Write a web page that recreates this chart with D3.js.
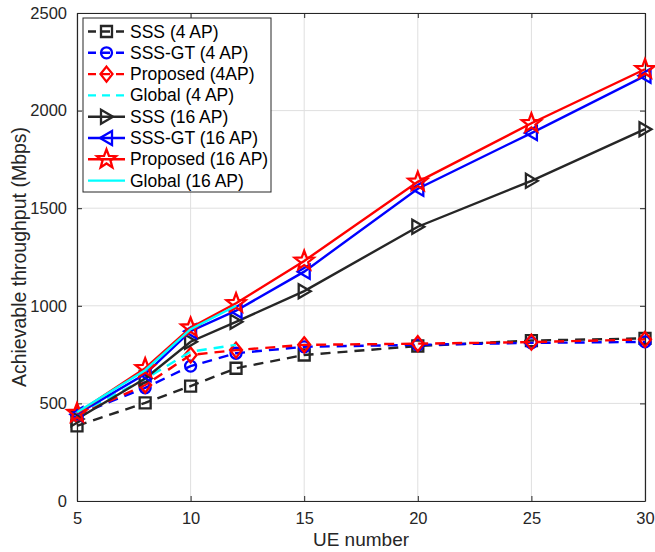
<!DOCTYPE html>
<html><head><meta charset="utf-8">
<script src="https://cdn.jsdelivr.net/npm/d3@7"></script>
<style>body{margin:0;background:#fff;} svg{display:block;font-family:"Liberation Sans",Arial,sans-serif;}</style>
</head><body>
<svg id="c" width="655" height="552"></svg>
<script>
const ueAll = [5, 8, 10, 12, 15, 20, 25, 30];
const ueGlobal = [5, 8, 10, 12];
const sss4 = [385, 503, 589, 680, 748, 794, 822, 833];
const sssgt4 = [440, 580, 691, 757, 790, 800, 810, 815];
const prop4 = [440, 594, 748, 773, 800, 806, 814, 828];
const global4 = [445, 625, 765, 800];
const sss16 = [420, 628, 816, 918, 1075, 1405, 1640, 1905];
const sssgt16 = [445, 650, 870, 975, 1175, 1600, 1885, 2178];
const prop16 = [450, 680, 888, 1013, 1230, 1635, 1935, 2212];
const global16 = [455, 670, 880, 1000];
const xTicks = [5, 10, 15, 20, 25, 30];
const yTicks = [0, 500, 1000, 1500, 2000, 2500];
const names = ["SSS (4 AP)", "SSS-GT (4 AP)", "Proposed (4AP)", "Global (4 AP)", "SSS (16 AP)", "SSS-GT (16 AP)", "Proposed (16 AP)", "Global (16 AP)"];

const K = "#262626", B = "#0000ff", R = "#ff0000", C = "#00ffff";
const series = [
  {x: ueAll, y: sss4, color: K, dash: true, marker: "square"},
  {x: ueAll, y: sssgt4, color: B, dash: true, marker: "circle"},
  {x: ueAll, y: prop4, color: R, dash: true, marker: "diamond"},
  {x: ueGlobal, y: global4, color: C, dash: true, marker: null},
  {x: ueAll, y: sss16, color: K, dash: false, marker: "tri-right"},
  {x: ueAll, y: sssgt16, color: B, dash: false, marker: "tri-left"},
  {x: ueAll, y: prop16, color: R, dash: false, marker: "star"},
  {x: ueGlobal, y: global16, color: C, dash: false, marker: null}
];

const L = 77, Rr = 645, T = 13, Bm = 501;
const svg = d3.select("#c");
const x = d3.scaleLinear().domain([5, 30]).range([L, Rr]);
const y = d3.scaleLinear().domain([0, 2500]).range([Bm, T]);

// grid
const g = svg.append("g");
g.selectAll(".gx").data(xTicks).enter().append("line")
  .attr("x1", d => x(d)).attr("x2", d => x(d)).attr("y1", T).attr("y2", Bm)
  .attr("stroke", "#dfdfdf").attr("stroke-width", 1);
g.selectAll(".gy").data(yTicks).enter().append("line")
  .attr("x1", L).attr("x2", Rr).attr("y1", d => y(d)).attr("y2", d => y(d))
  .attr("stroke", "#dfdfdf").attr("stroke-width", 1);

// axes
const fmt = d3.format("d");
const xAxis = svg.append("g").attr("transform", `translate(0,${Bm})`)
  .call(d3.axisBottom(x).tickValues(xTicks).tickFormat(fmt).tickSizeInner(-5).tickSizeOuter(0).tickPadding(11));
const xAxisTop = svg.append("g").attr("transform", `translate(0,${T})`)
  .call(d3.axisTop(x).tickValues(xTicks).tickSizeInner(-5).tickSizeOuter(0).tickFormat(""));
const yAxis = svg.append("g").attr("transform", `translate(${L},0)`)
  .call(d3.axisLeft(y).tickValues(yTicks).tickFormat(fmt).tickSizeInner(-5).tickSizeOuter(0).tickPadding(10));
const yAxisR = svg.append("g").attr("transform", `translate(${Rr},0)`)
  .call(d3.axisRight(y).tickValues(yTicks).tickSizeInner(-5).tickSizeOuter(0).tickFormat(""));
[xAxis, xAxisTop, yAxis, yAxisR].forEach(a => {
  a.selectAll("path.domain").attr("stroke", K).attr("stroke-width", 1.2);
  a.selectAll(".tick line").attr("stroke", K).attr("stroke-width", 1);
  a.selectAll("text").attr("fill", "#262626").style("font-size", "16.5px").style("font-family", "Liberation Sans, Arial, sans-serif");
});

svg.append("text").attr("x", (L + Rr) / 2).attr("y", 546).attr("text-anchor", "middle")
  .style("font-size", "19px").attr("fill", "#262626").text("UE number");
svg.append("text").attr("transform", `translate(26,${(T + Bm) / 2}) rotate(-90)`).attr("text-anchor", "middle")
  .style("font-size", "19.5px").attr("fill", "#262626").text("Achievable throughput (Mbps)");

function markerPath(type) {
  switch (type) {
    case "square": return "M-5.5,-5.5H5.5V5.5H-5.5Z";
    case "circle": return d3.symbol().type(d3.symbolCircle).size(Math.PI * 5.5 * 5.5)();
    case "diamond": return "M0,-7.5L6,0L0,7.5L-6,0Z";
    case "tri-right": return "M6.5,0L-5.5,-7L-5.5,7Z";
    case "tri-left": return "M-6.5,0L5.5,-7L5.5,7Z";
    case "star": {
      const pts = [];
      for (let i = 0; i < 10; i++) {
        const r = i % 2 === 0 ? 10 : 4.2;
        const a = -Math.PI / 2 + i * Math.PI / 5;
        pts.push([r * Math.cos(a), r * Math.sin(a)]);
      }
      return "M" + pts.map(p => p.join(",")).join("L") + "Z";
    }
  }
  return null;
}

const plot = svg.append("g");
const line = d3.line();
series.forEach(s => {
  const pts = s.x.map((v, i) => [x(v), y(s.y[i])]);
  plot.append("path").attr("d", line(pts)).attr("fill", "none")
    .attr("stroke", s.color).attr("stroke-width", 2.4)
    .attr("stroke-dasharray", s.dash ? "10,7" : null);
  if (s.marker) {
    plot.selectAll(null).data(pts).enter().append("path")
      .attr("d", markerPath(s.marker)).attr("transform", p => `translate(${p[0]},${p[1]})`)
      .attr("fill", "none").attr("stroke", s.color).attr("stroke-width", 2.3);
  }
});

// legend
const lg = svg.append("g");
lg.append("rect").attr("x", 83).attr("y", 18).attr("width", 188).attr("height", 174)
  .attr("fill", "#fff").attr("stroke", K).attr("stroke-width", 1);
series.forEach((s, i) => {
  const cy = 31.5 + i * 21.3;
  lg.append("line").attr("x1", 88).attr("x2", 125).attr("y1", cy).attr("y2", cy)
    .attr("stroke", s.color).attr("stroke-width", 2.4)
    .attr("stroke-dasharray", s.dash ? "8,6" : null);
  if (s.marker) {
    lg.append("path").attr("d", markerPath(s.marker)).attr("transform", `translate(106.5,${cy})`)
      .attr("fill", "none").attr("stroke", s.color).attr("stroke-width", 2.3);
  }
  lg.append("text").attr("x", 130).attr("y", cy + 6).style("font-size", "17.5px")
    .attr("fill", "#000").text(names[i]);
});
</script>
</body></html>
